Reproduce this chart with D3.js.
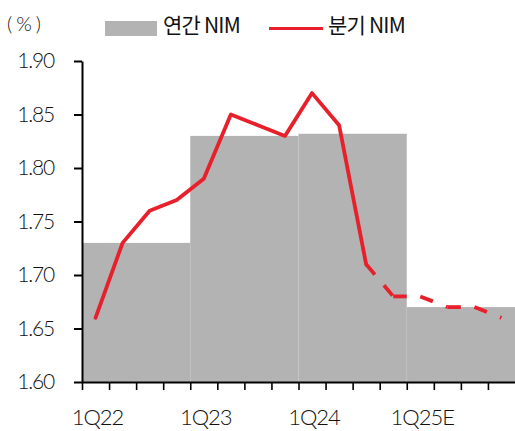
<!DOCTYPE html>
<html>
<head>
<meta charset="utf-8">
<script src="https://cdn.jsdelivr.net/npm/d3@7"></script>
<style>
  html, body { margin: 0; padding: 0; background: #fff; }
  svg { display: block; }
  .num { font-family: "Lato", "Noto Sans", sans-serif; font-weight: 300; fill: #111; }
  .kr { font-family: "Noto Sans CJK KR", "Noto Sans", sans-serif; font-weight: 400; fill: #111; }
</style>
</head>
<body>
<svg id="chart" width="515" height="431"></svg>
<script>
// Quarters shown along the x axis
const quarters = ["1Q22","2Q22","3Q22","4Q22","1Q23","2Q23","3Q23","4Q23",
                  "1Q24","2Q24","3Q24","4Q24","1Q25E","2Q25E","3Q25E","4Q25E"];
// Quarterly NIM (%)
const quarterlyNim = [1.66,1.73,1.76,1.77,1.79,1.85,1.84,1.83,
                      1.87,1.84,1.71,1.68,1.68,1.67,1.67,1.66];
// Annual NIM (%), each year covering four quarters
const years = ["2022","2023","2024","2025E"];
const annualNim = [1.73,1.83,1.832,1.67];
// Index of the quarter where the dashed (estimated) part begins
const dashedFrom = 10;
// Axis ticks and labels
const yTicks = [1.60,1.65,1.70,1.75,1.80,1.85,1.90];
const xLabels = ["1Q22","1Q23","1Q24","1Q25E"];
const legendLabels = ["연간 NIM","분기 NIM"];
const unitLabel = "(%)";

const RED = "#e8202b";
const GRAY = "#b3b3b3";

const svg = d3.select("#chart");
const m = { left: 82, right: 515, top: 61, bottom: 382 };

const x = d3.scaleBand().domain(quarters).range([m.left, m.right]).paddingInner(0).paddingOuter(0);
const xEdge = d3.scaleLinear().domain([0, quarters.length]).range([m.left, m.right]);
const y = d3.scaleLinear().domain([1.60, 1.90]).range([m.bottom, m.top]);
const bw = x.bandwidth();

// Annual bars spanning their four quarters
svg.append("g").selectAll("rect")
  .data(years)
  .join("rect")
  .attr("x", (d, i) => x(quarters[i * 4]))
  .attr("width", bw * 4)
  .attr("y", (d, i) => y(annualNim[i]))
  .attr("height", (d, i) => y(1.60) - y(annualNim[i]))
  .attr("fill", GRAY);

// Y axis
const yAxis = svg.append("g")
  .attr("transform", `translate(${m.left},0)`)
  .call(d3.axisLeft(y).tickValues(yTicks).tickFormat(d3.format(".2f")).tickSize(8).tickSizeOuter(0).tickPadding(20));
yAxis.select(".domain").attr("stroke", "#000").attr("stroke-width", 2);
yAxis.selectAll(".tick line").attr("stroke", "#000").attr("stroke-width", 2);
yAxis.selectAll(".tick text").attr("class", "num").attr("font-size", 21).attr("letter-spacing", "-1.2px");

// X axis: ticks on quarter boundaries
const xAxis = svg.append("g")
  .attr("transform", `translate(0,${m.bottom})`)
  .call(d3.axisBottom(xEdge).tickValues(d3.range(0, quarters.length)).tickFormat("").tickSize(8).tickSizeOuter(0));
xAxis.select(".domain").attr("stroke", "#000").attr("stroke-width", 2);
xAxis.selectAll(".tick line").attr("stroke", "#000").attr("stroke-width", 1.6);

// X labels centred on their quarter
const xLab = svg.append("g")
  .attr("transform", `translate(2,${m.bottom})`)
  .call(d3.axisBottom(x).tickValues(xLabels).tickSize(0).tickPadding(27));
xLab.select(".domain").remove();
xLab.selectAll(".tick text").attr("class", "num").attr("font-size", 22).attr("letter-spacing", "-1px");

// Quarterly line
const pts = quarters.map((q, i) => [x(q) + bw / 2, y(quarterlyNim[i])]);
const line = d3.line();
svg.append("path")
  .attr("d", line(pts.slice(0, dashedFrom + 1)))
  .attr("fill", "none").attr("stroke", RED).attr("stroke-width", 3.8)
  .attr("stroke-linejoin", "round").attr("stroke-linecap", "round");
// Estimated part: every segment starts its own dash pattern
for (let i = dashedFrom; i < pts.length - 1; i++) {
  svg.append("path")
    .attr("d", line([pts[i], pts[i + 1]]))
    .attr("fill", "none").attr("stroke", RED).attr("stroke-width", 3.8)
    .attr("stroke-dasharray", "13.5,14");
}

// Unit label
svg.append("text").attr("class", "num").attr("x", 7).attr("y", 31)
  .attr("font-size", 20).attr("letter-spacing", "4px").text(unitLabel);

// Legend
svg.append("rect").attr("x", 105).attr("y", 21).attr("width", 52).attr("height", 15).attr("fill", GRAY);
svg.append("text").attr("class", "kr").attr("x", 163).attr("y", 33)
  .attr("font-size", 21).attr("letter-spacing", "-0.8px").text(legendLabels[0]);
svg.append("line").attr("x1", 269).attr("x2", 323).attr("y1", 28.5).attr("y2", 28.5)
  .attr("stroke", RED).attr("stroke-width", 3);
svg.append("text").attr("class", "kr").attr("x", 328).attr("y", 33)
  .attr("font-size", 21).attr("letter-spacing", "-0.8px").text(legendLabels[1]);
</script>
</body>
</html>
